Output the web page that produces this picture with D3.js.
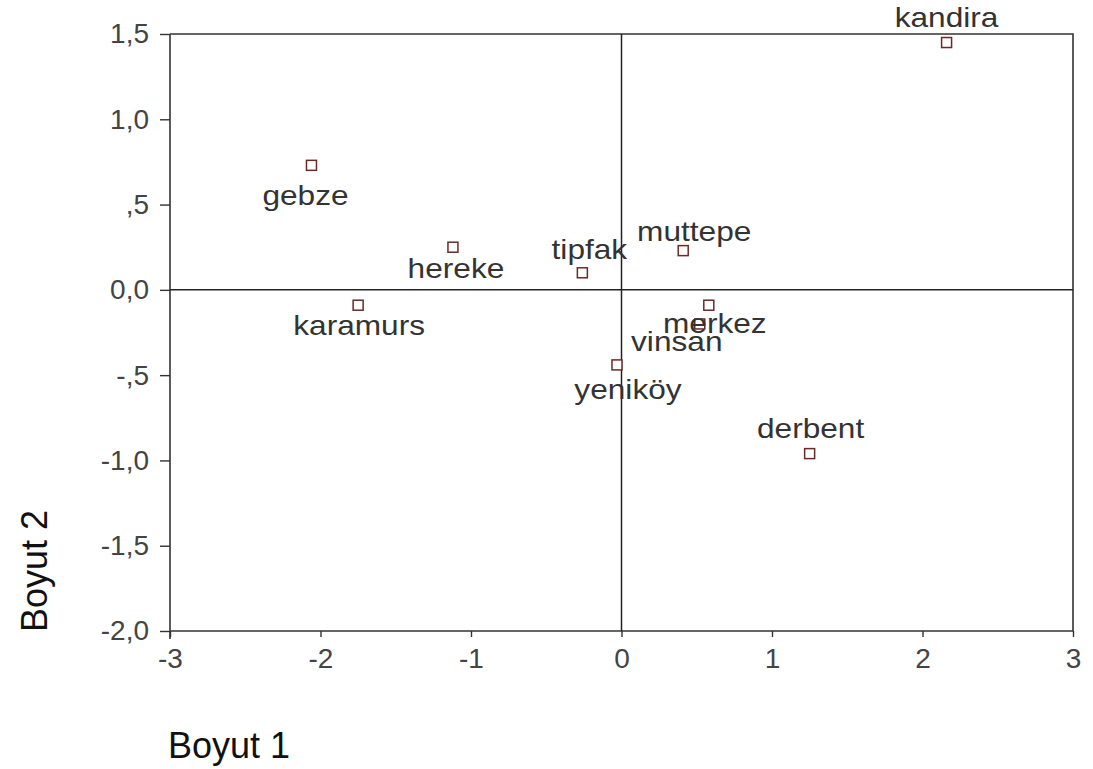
<!DOCTYPE html>
<html>
<head>
<meta charset="utf-8">
<script src="https://cdn.jsdelivr.net/npm/d3@7"></script>
<style>
  html, body { margin: 0; padding: 0; background: #fff; }
  svg { display: block; }
  text { font-family: "Liberation Sans", Arial, sans-serif; }
</style>
</head>
<body>
<svg id="chart" width="1093" height="769"></svg>
<script>
// Point names and their coordinates on the two dimensions
const names = ["kandira", "gebze", "hereke", "tipfak", "muttepe", "karamurs", "merkez", "vinsan", "yeniköy", "derbent"];
const dim1  = [2.16, -2.06, -1.12, -0.26, 0.41, -1.75, 0.58, 0.52, -0.03, 1.25];
const dim2  = [1.45, 0.73, 0.25, 0.10, 0.23, -0.09, -0.09, -0.20, -0.44, -0.96];

// Axis ticks and their printed labels
const xTicks = [-3, -2, -1, 0, 1, 2, 3];
const xTickLabels = ["-3", "-2", "-1", "0", "1", "2", "3"];
const yTicks = [1.5, 1.0, 0.5, 0.0, -0.5, -1.0, -1.5, -2.0];
const yTickLabels = ["1,5", "1,0", ",5", "0,0", "-,5", "-1,0", "-1,5", "-2,0"];

const xTitle = "Boyut 1";
const yTitle = "Boyut 2";

// Label placement around each marker (layout only)
const labelPlace = {
  "kandira":  { dx: 0,   dy: -25 },
  "gebze":    { dx: -6,  dy: 30 },
  "hereke":   { dx: 3,   dy: 21 },
  "tipfak":   { dx: 7,   dy: -24 },
  "muttepe":  { dx: 11,  dy: -19 },
  "karamurs": { dx: 1,   dy: 20 },
  "merkez":   { dx: 6,   dy: 18 },
  "vinsan":   { dx: -23, dy: 17 },
  "yeniköy":  { dx: 11,  dy: 24 },
  "derbent":  { dx: 1,   dy: -25 }
};

const svg = d3.select("#chart");
const plotL = 170, plotR = 1073, plotT = 34, plotB = 631;

const x = d3.scaleLinear().domain([-3, 3]).range([plotL, plotR]);
const y = d3.scaleLinear().domain([-2, 1.5]).range([plotB, plotT]);

const axisColor = "#333";

// Frame (top and right edges)
svg.append("path")
  .attr("d", `M${plotL},${plotT}H${plotR}V${plotB}`)
  .attr("fill", "none").attr("stroke", axisColor).attr("stroke-width", 1.6);

// Bottom axis
const gx = svg.append("g").attr("transform", `translate(0,${plotB})`)
  .call(d3.axisBottom(x).tickValues(xTicks).tickFormat((d, i) => xTickLabels[i]).tickSize(6).tickPadding(11).tickSizeOuter(0));
gx.select(".domain").attr("stroke", axisColor).attr("stroke-width", 1.6).attr("d", `M${plotL},0H${plotR}`);
gx.selectAll(".tick line").attr("stroke", axisColor).attr("stroke-width", 1.4);
gx.selectAll(".tick text").attr("fill", "#444").attr("font-size", 28)
  .attr("font-family", "'Liberation Sans', Arial, sans-serif");

// Left axis
const gy = svg.append("g").attr("transform", `translate(${plotL},0)`)
  .call(d3.axisLeft(y).tickValues(yTicks).tickFormat((d, i) => yTickLabels[i]).tickSize(10).tickPadding(11).tickSizeOuter(0));
gy.select(".domain").attr("stroke", axisColor).attr("stroke-width", 1.6).attr("d", `M0,${plotT}V${plotB + 8}`);
gy.selectAll(".tick line").attr("stroke", axisColor).attr("stroke-width", 1.4);
gy.selectAll(".tick text").attr("fill", "#444").attr("font-size", 28)
  .attr("font-family", "'Liberation Sans', Arial, sans-serif");

// Reference lines through the origin
svg.append("line")
  .attr("x1", x(0)).attr("x2", x(0)).attr("y1", plotT).attr("y2", plotB)
  .attr("stroke", "#222").attr("stroke-width", 1.5);
svg.append("line")
  .attr("x1", plotL).attr("x2", plotR).attr("y1", y(0)).attr("y2", y(0))
  .attr("stroke", "#222").attr("stroke-width", 1.5);

// Points
const pts = names.map((n, i) => ({ name: n, d1: dim1[i], d2: dim2[i] }));
const s = 10;
svg.append("g").selectAll("rect").data(pts).join("rect")
  .attr("x", d => x(d.d1) - s / 2)
  .attr("y", d => y(d.d2) - s / 2)
  .attr("width", s).attr("height", s)
  .attr("fill", "#fff")
  .attr("stroke", "#6a2a2a").attr("stroke-width", 1.5);

// Point labels
svg.append("g").selectAll("text").data(pts).join("text")
  .attr("transform", d => {
    const p = labelPlace[d.name];
    return `translate(${x(d.d1) + p.dx},${y(d.d2) + p.dy}) scale(1.13,1)`;
  })
  .attr("text-anchor", "middle")
  .attr("dominant-baseline", "central")
  .attr("font-size", 28)
  .attr("fill", "#333")
  .text(d => d.name);

// Axis titles
svg.append("text")
  .attr("x", 168).attr("y", 758)
  .attr("font-size", 36).attr("fill", "#111")
  .text(xTitle);
svg.append("text")
  .attr("transform", "translate(47,632) rotate(-90)")
  .attr("font-size", 36).attr("fill", "#111")
  .text(yTitle);
</script>
</body>
</html>
